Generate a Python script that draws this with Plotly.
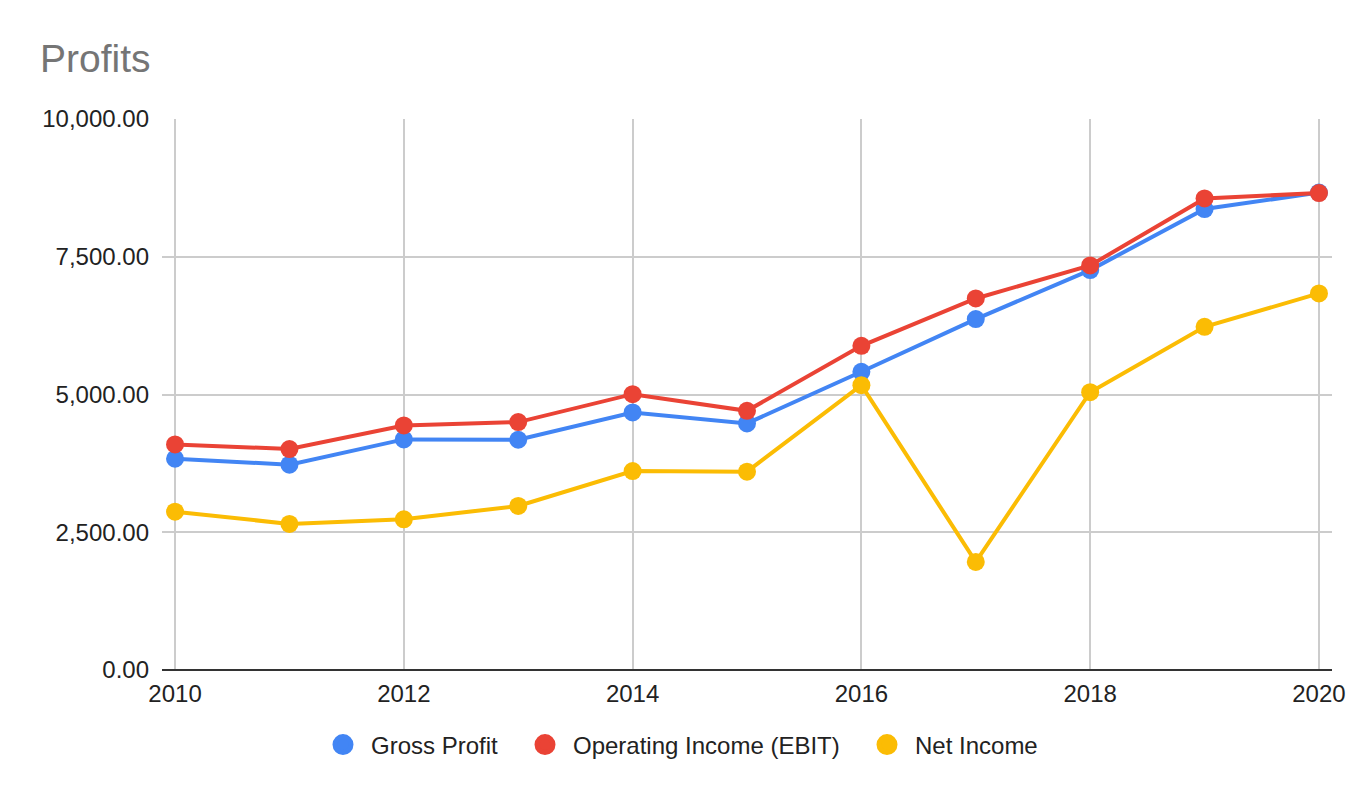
import plotly.graph_objects as go

# values
years = [2010, 2011, 2012, 2013, 2014, 2015, 2016, 2017, 2018, 2019, 2020]
gross_profit = [3834, 3726, 4185, 4179, 4674, 4475, 5412, 6368, 7258, 8366, 8665]
operating_income = [4094, 4010, 4438, 4499, 5006, 4704, 5884, 6743, 7343, 8559, 8655]
net_income = [2874, 2651, 2735, 2977, 3611, 3599, 5169, 1962, 5042, 6229, 6834]

series_names = ["Gross Profit", "Operating Income (EBIT)", "Net Income"]
series_values = [gross_profit, operating_income, net_income]
colors = ["#4285F4", "#EA4335", "#FBBC04"]
legend_widths = [141, 281, 137]

FONT = "Liberation Sans, Arial, sans-serif"

# page body has an 8px margin, so the figure is 16px smaller than the window
W, H = 1356, 782

fig = go.Figure()

for name, vals, col in zip(series_names, series_values, colors):
    fig.add_trace(go.Scatter(
        x=years, y=vals, mode="lines+markers", name=name,
        line=dict(color=col, width=4),
        marker=dict(color=col, size=18),
        showlegend=False,
    ))

# legend entries as plain dots
for name, col, lw in zip(series_names, colors, legend_widths):
    fig.add_trace(go.Scatter(
        x=[None], y=[None], mode="markers", name=name,
        marker=dict(color=col, size=16, line=dict(color=col, width=5)),
        legendwidth=lw,
    ))

fig.update_layout(
    width=W, height=H,
    margin=dict(l=154, r=32, t=111, b=120),
    paper_bgcolor="white", plot_bgcolor="white",
    font=dict(family=FONT, size=24, color="#222222"),
    title=dict(
        text="Profits", font=dict(family=FONT, size=39, color="#757575"),
        xref="container", x=32 / W, xanchor="left",
        yref="container", y=1 - 50.6 / H, yanchor="middle",
    ),
    legend=dict(
        orientation="h", xref="container", x=0.5, xanchor="center",
        yref="container", y=1 - 737 / H, yanchor="middle",
        font=dict(family=FONT, size=24, color="#222222"),
        itemsizing="trace", itemwidth=46,
    ),
    showlegend=True,
)

fig.update_xaxes(
    range=[2009.886, 2020.114], tick0=2010, dtick=2,
    showgrid=True, gridcolor="#cccccc", gridwidth=2,
    zeroline=False, showline=False, ticks="",
    ticklabelstandoff=7,
)
fig.update_yaxes(
    range=[0, 10000], dtick=2500, tickformat=",.2f",
    showgrid=True, gridcolor="#cccccc", gridwidth=2,
    zeroline=True, zerolinecolor="#333333", zerolinewidth=2,
    showline=False, ticks="", ticklabelstandoff=12,
)

fig.write_html("out.html")
